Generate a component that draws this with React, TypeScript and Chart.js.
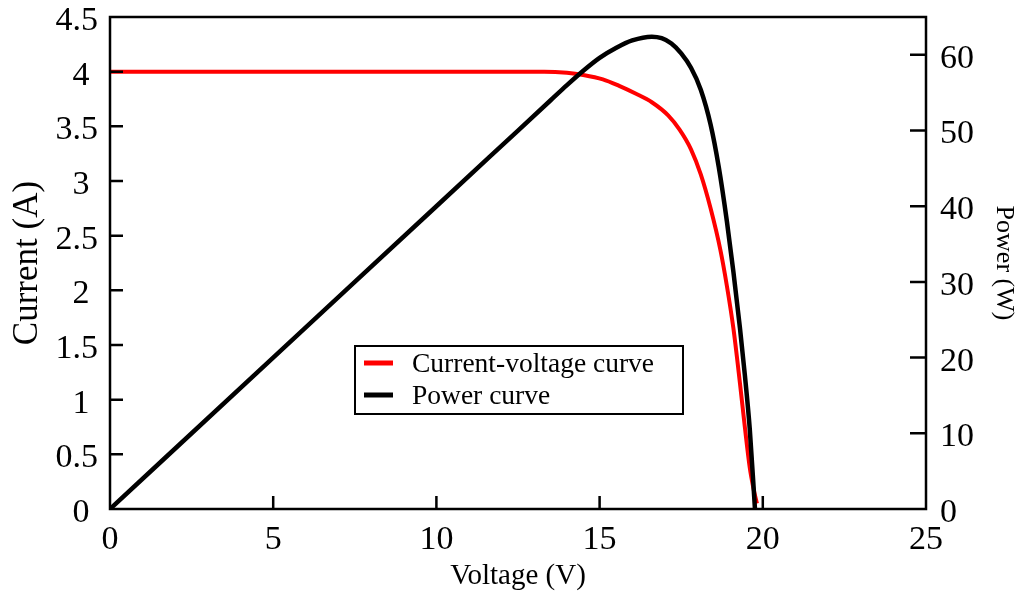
import React, { useEffect, useRef } from "react";
import { Chart, registerables } from "chart.js";

Chart.register(...registerables);

// Current-voltage curve (V, A)
const ivVoltage = [0, 5, 10, 13.3, 14.0, 14.5, 15.1, 15.6, 16.1, 16.6, 17.1, 17.45, 17.8, 18.1, 18.4, 18.7, 18.9, 19.1, 19.3, 19.45, 19.6, 19.72, 19.82];
const ivCurrent = [4.0, 4.0, 4.0, 4.0, 3.99, 3.97, 3.93, 3.87, 3.8, 3.72, 3.6, 3.47, 3.29, 3.06, 2.75, 2.37, 2.04, 1.65, 1.15, 0.75, 0.38, 0.18, 0.05];

// Power curve (V, W)
const pvVoltage = [0, 5, 10, 12.5, 13.5, 14.0, 14.5, 15.0, 15.5, 16.0, 16.6, 16.9, 17.2, 17.5, 17.8, 18.1, 18.4, 18.65, 18.9, 19.1, 19.3, 19.45, 19.6, 19.76];
const pvPower = [0, 20, 40, 50, 54.0, 56.0, 57.9, 59.6, 60.9, 61.9, 62.4, 62.2, 61.5, 60.2, 58.3, 55.4, 50.8, 45.2, 38.0, 31.3, 23.9, 17.7, 10.6, 0];

const seriesNames = ["Current-voltage curve", "Power curve"];
const seriesColors = ["#ff0000", "#000000"];

const xTitle = "Voltage (V)";
const yTitle = "Current (A)";
const y2Title = "Power (W)";

const FONT = "'Liberation Serif', 'Times New Roman', serif";

export default function App() {
  const ref = useRef<HTMLCanvasElement>(null);

  useEffect(() => {
    const framePlugin = {
      id: "frameAndLegend",
      afterDraw(chart: any) {
        const { ctx, chartArea: a, scales } = chart;
        ctx.save();
        ctx.strokeStyle = "#000";
        ctx.lineWidth = 2.5;
        ctx.strokeRect(a.left, a.top, a.right - a.left, a.bottom - a.top);
        ctx.beginPath();
        for (const t of scales.y.ticks) {
          if (t.value <= 0 || t.value >= scales.y.max) continue;
          const py = scales.y.getPixelForValue(t.value);
          ctx.moveTo(a.left, py);
          ctx.lineTo(a.left + 13, py);
        }
        for (const t of scales.y1.ticks) {
          if (t.value <= 0 || t.value >= scales.y1.max) continue;
          const py = scales.y1.getPixelForValue(t.value);
          ctx.moveTo(a.right, py);
          ctx.lineTo(a.right - 16, py);
        }
        for (const t of scales.x.ticks) {
          if (t.value <= 0 || t.value >= scales.x.max) continue;
          const px = scales.x.getPixelForValue(t.value);
          ctx.moveTo(px, a.bottom);
          ctx.lineTo(px, a.bottom - 13);
        }
        ctx.stroke();

        // legend box
        const bx = 355, by = 346, bw = 328, bh = 68;
        ctx.fillStyle = "#fff";
        ctx.fillRect(bx, by, bw, bh);
        ctx.lineWidth = 2;
        ctx.strokeRect(bx, by, bw, bh);
        const rows = [363, 395];
        ctx.font = `27.5px ${FONT}`;
        ctx.textBaseline = "middle";
        ctx.textAlign = "left";
        seriesNames.forEach((name, i) => {
          ctx.strokeStyle = seriesColors[i];
          ctx.lineWidth = 5;
          ctx.beginPath();
          ctx.moveTo(364, rows[i]);
          ctx.lineTo(393, rows[i]);
          ctx.stroke();
          ctx.fillStyle = "#000";
          ctx.fillText(name, 412, rows[i] + 2);
        });
        ctx.restore();
      },
    };

    const chart = new Chart(ref.current!, {
      type: "line",
      data: {
        datasets: [
          {
            label: seriesNames[0],
            data: ivVoltage.map((v, i) => ({ x: v, y: ivCurrent[i] })),
            borderColor: seriesColors[0],
            backgroundColor: seriesColors[0],
            borderWidth: 4,
            pointRadius: 0,
            cubicInterpolationMode: "monotone",
            yAxisID: "y",
            order: 2,
          },
          {
            label: seriesNames[1],
            data: pvVoltage.map((v, i) => ({ x: v, y: pvPower[i] })),
            borderColor: seriesColors[1],
            backgroundColor: seriesColors[1],
            borderWidth: 4.5,
            pointRadius: 0,
            cubicInterpolationMode: "monotone",
            yAxisID: "y1",
            order: 1,
          },
        ],
      },
      options: {
        animation: false,
        responsive: true,
        maintainAspectRatio: false,
        layout: { padding: { top: 17, left: 0, right: 0, bottom: 0 } },
        plugins: { legend: { display: false }, tooltip: { enabled: false } },
        scales: {
          x: {
            type: "linear",
            min: 0,
            max: 25,
            grid: { display: false, drawTicks: false },
            border: { display: false },
            ticks: {
              stepSize: 5,
              color: "#000",
              font: { family: FONT, size: 34 },
              padding: 11,
              maxRotation: 0,
              autoSkip: false,
            },
            title: {
              display: true,
              text: xTitle,
              color: "#000",
              font: { family: FONT, size: 29 },
              padding: { top: 0, bottom: 1 },
            },
            afterFit(s: any) {
              s.height = 86;
              s.paddingLeft = 0;
              s.paddingRight = 0;
            },
          },
          y: {
            type: "linear",
            position: "left",
            min: 0,
            max: 4.5,
            grid: { display: false, drawTicks: false },
            border: { display: false },
            ticks: {
              stepSize: 0.5,
              color: "#000",
              font: { family: FONT, size: 34 },
              padding: 12,
              labelOffset: 4,
              callback: (v: any) => (Number.isInteger(v) ? `${v} ` : `${v}`),
            },
            title: {
              display: true,
              text: yTitle,
              color: "#000",
              font: { family: FONT, size: 35 },
              padding: { top: 6.5, bottom: 0 },
            },
            afterFit(s: any) {
              s.width = 110;
              s.paddingTop = 0;
              s.paddingBottom = 0;
            },
          },
          y1: {
            type: "linear",
            position: "right",
            min: 0,
            max: 65,
            grid: { display: false, drawTicks: false },
            border: { display: false },
            ticks: {
              stepSize: 10,
              includeBounds: false,
              color: "#000",
              font: { family: FONT, size: 34 },
              padding: 14,
              labelOffset: 4,
            },
            title: {
              display: true,
              text: y2Title,
              color: "#000",
              font: { family: FONT, size: 26 },
              padding: { top: 5, bottom: 0 },
            },
            afterFit(s: any) {
              s.width = 98;
              s.paddingTop = 0;
              s.paddingBottom = 0;
            },
          },
        },
      },
      plugins: [framePlugin],
    } as any);

    return () => chart.destroy();
  }, []);

  return (
    <div style={{ position: "fixed", left: 0, top: 0, width: 1024, height: 595, background: "#fff" }}>
      <canvas ref={ref} />
    </div>
  );
}
